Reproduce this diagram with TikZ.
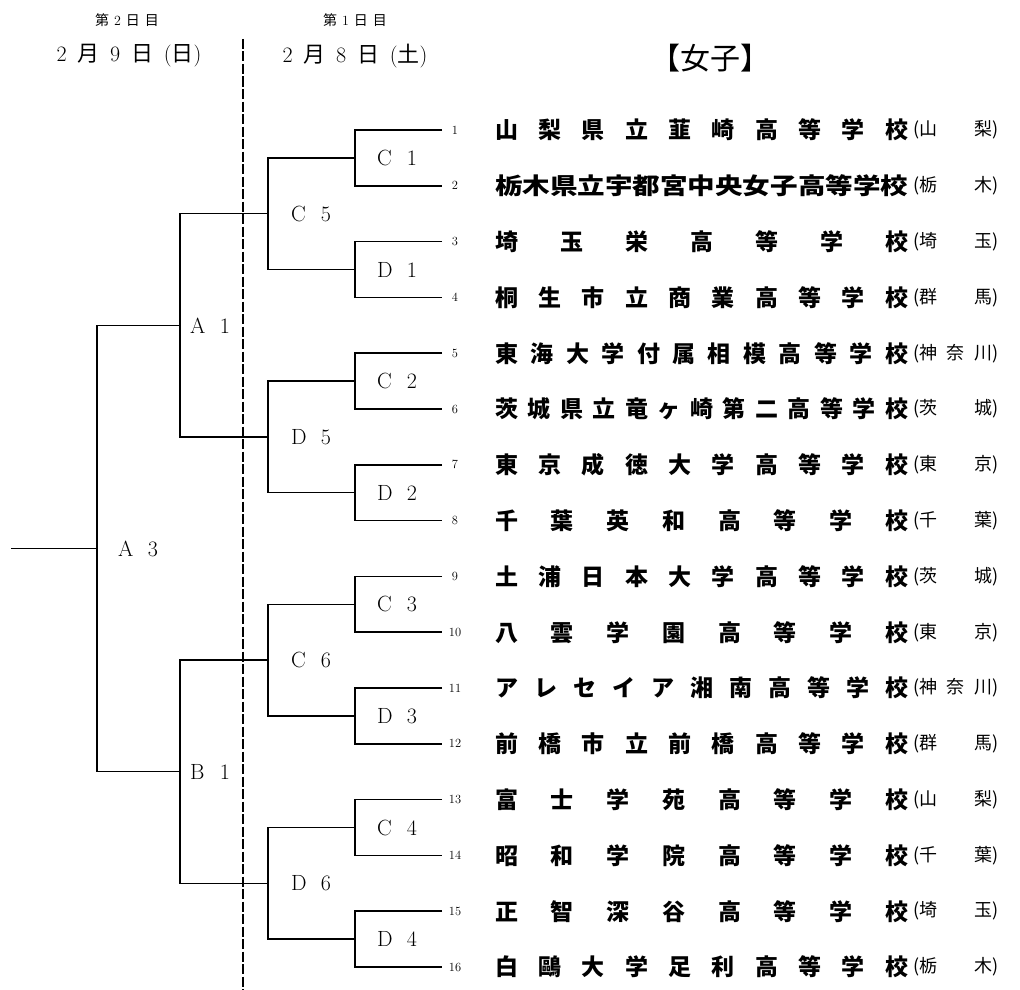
\documentclass[tikz,border=0pt]{standalone}
\usepackage{fontspec}
\usepackage{graphicx}
\newfontfamily\cjk{Noto Sans CJK JP}
\def\spr#1{\sprA#1\relax}
\def\sprA#1#2{#1\ifx\relax#2\else\hfill\expandafter\sprA\fi#2}
\tikzset{
  br/.style={line width=1.5pt, line join=miter},
  dline/.style={line width=2pt, dash pattern=on 10pt off 2.5pt},
  mlabel/.style={inner sep=0pt, font=\fontsize{22}{22}\selectfont},
  num/.style={inner sep=0pt, font=\fontsize{12.5}{12.5}\selectfont},
  school/.style={anchor=west, inner sep=0pt, font={\fontsize{23}{23}\selectfont\cjk\bfseries}},
  pref/.style={anchor=west, inner sep=0pt, font={\fontsize{18}{18}\selectfont\cjk}},
  hdsmall/.style={inner sep=0pt, font=\fontsize{14}{14}\selectfont},
  hdbig/.style={inner sep=0pt, font=\fontsize{22}{22}\selectfont},
  title/.style={inner sep=0pt, font={\fontsize{30}{30}\selectfont\cjk}}
}
\newcommand\srow[3]{%
  \coordinate (L#1) at (442,{130+(#1-1)*55.8});
  \node[num] (n#1) at (455,{130+(#1-1)*55.8}) {#1};
  \node[school] (s#1) at (495,{130+(#1-1)*55.8}) {#2};
  \node[pref] (p#1) at (913,{130+(#1-1)*55.8}) {\makebox[85pt][s]{#3}};
}
\newcommand\mlab[3]{\node[mlabel] (l#1) at (#2) {\makebox[40pt][s]{#3}};}
\begin{document}
\begin{tikzpicture}[x=1pt,y=-1pt]
\useasboundingbox (0,0) rectangle (1020,990);
% headers
\node[hdsmall] (h2s) at (127,20) {\makebox[64pt][s]{{\cjk 第}\hfill 2\hfill{\cjk 日}\hfill{\cjk 目}}};
\node[hdbig] (h2) at (129,56) {\makebox[145pt][s]{2\hfill{\cjk 月}\hfill 9\hfill{\cjk 日}\hfill({\cjk 日})}};
\node[hdsmall] (h1s) at (355,20) {\makebox[64pt][s]{{\cjk 第}\hfill 1\hfill{\cjk 日}\hfill{\cjk 目}}};
\node[hdbig] (h1) at (355,56) {\makebox[145pt][s]{2\hfill{\cjk 月}\hfill 8\hfill{\cjk 日}\hfill({\cjk 土})}};
\node[title] (ttl) at (710,58) {【女子】};
% dashed divider
\coordinate (dtop) at (243,39);
\coordinate (dbot) at (243,990);
\draw[dline] (dtop) -- (dbot);
% rows
\srow{1}{\makebox[413pt][s]{\spr{山梨県立韮崎高等学校}}}{(山\hfill 梨)}
\srow{2}{\scalebox{1.197}[1]{栃木県立宇都宮中央女子高等学校}}{(栃\hfill 木)}
\srow{3}{\makebox[413pt][s]{\spr{埼玉栄高等学校}}}{(埼\hfill 玉)}
\srow{4}{\makebox[413pt][s]{\spr{桐生市立商業高等学校}}}{(群\hfill 馬)}
\srow{5}{\makebox[413pt][s]{\spr{東海大学付属相模高等学校}}}{(神\hfill 奈\hfill 川)}
\srow{6}{\makebox[413pt][s]{\spr{茨城県立竜ヶ崎第二高等学校}}}{(茨\hfill 城)}
\srow{7}{\makebox[413pt][s]{\spr{東京成徳大学高等学校}}}{(東\hfill 京)}
\srow{8}{\makebox[413pt][s]{\spr{千葉英和高等学校}}}{(千\hfill 葉)}
\srow{9}{\makebox[413pt][s]{\spr{土浦日本大学高等学校}}}{(茨\hfill 城)}
\srow{10}{\makebox[413pt][s]{\spr{八雲学園高等学校}}}{(東\hfill 京)}
\srow{11}{\makebox[413pt][s]{\spr{アレセイア湘南高等学校}}}{(神\hfill 奈\hfill 川)}
\srow{12}{\makebox[413pt][s]{\spr{前橋市立前橋高等学校}}}{(群\hfill 馬)}
\srow{13}{\makebox[413pt][s]{\spr{富士学苑高等学校}}}{(山\hfill 梨)}
\srow{14}{\makebox[413pt][s]{\spr{昭和学院高等学校}}}{(千\hfill 葉)}
\srow{15}{\makebox[413pt][s]{\spr{正智深谷高等学校}}}{(埼\hfill 玉)}
\srow{16}{\makebox[413pt][s]{\spr{白鷗大学足利高等学校}}}{(栃\hfill 木)}
% junctions level 1
\coordinate (jC1) at (355,{130+0.5*55.8});
\coordinate (jD1) at (355,{130+2.5*55.8});
\coordinate (jC2) at (355,{130+4.5*55.8});
\coordinate (jD2) at (355,{130+6.5*55.8});
\coordinate (jC3) at (355,{130+8.5*55.8});
\coordinate (jD3) at (355,{130+10.5*55.8});
\coordinate (jC4) at (355,{130+12.5*55.8});
\coordinate (jD4) at (355,{130+14.5*55.8});
% level 2
\coordinate (jC5) at (268,{130+1.5*55.8});
\coordinate (jD5) at (268,{130+5.5*55.8});
\coordinate (jC6) at (268,{130+9.5*55.8});
\coordinate (jD6) at (268,{130+13.5*55.8});
% level 3
\coordinate (jA1) at (180,{130+3.5*55.8});
\coordinate (jB1) at (180,{130+11.5*55.8});
% root
\coordinate (jA3) at (97,{130+7.5*55.8});
\coordinate (out) at (11,{130+7.5*55.8});
% brackets
\draw[br] (L1) -| (jC1) |- (L2);
\draw[br] (L3) -| (jD1) |- (L4);
\draw[br] (L5) -| (jC2) |- (L6);
\draw[br] (L7) -| (jD2) |- (L8);
\draw[br] (L9) -| (jC3) |- (L10);
\draw[br] (L11) -| (jD3) |- (L12);
\draw[br] (L13) -| (jC4) |- (L14);
\draw[br] (L15) -| (jD4) |- (L16);
\draw[br] (jC1) -| (jC5) |- (jD1);
\draw[br] (jC2) -| (jD5) |- (jD2);
\draw[br] (jC3) -| (jC6) |- (jD3);
\draw[br] (jC4) -| (jD6) |- (jD4);
\draw[br] (jC5) -| (jA1) |- (jD5);
\draw[br] (jC6) -| (jB1) |- (jD6);
\draw[br] (jA1) -| (jA3) |- (jB1);
\draw[br] (jA3) -- (out);
% match labels
\mlab{C1}{397,{130+0.5*55.8}}{C\hfill 1}
\mlab{D1}{397,{130+2.5*55.8}}{D\hfill 1}
\mlab{C2}{397,{130+4.5*55.8}}{C\hfill 2}
\mlab{D2}{397,{130+6.5*55.8}}{D\hfill 2}
\mlab{C3}{397,{130+8.5*55.8}}{C\hfill 3}
\mlab{D3}{397,{130+10.5*55.8}}{D\hfill 3}
\mlab{C4}{397,{130+12.5*55.8}}{C\hfill 4}
\mlab{D4}{397,{130+14.5*55.8}}{D\hfill 4}
\mlab{C5}{311,{130+1.5*55.8}}{C\hfill 5}
\mlab{D5}{311,{130+5.5*55.8}}{D\hfill 5}
\mlab{C6}{311,{130+9.5*55.8}}{C\hfill 6}
\mlab{D6}{311,{130+13.5*55.8}}{D\hfill 6}
\mlab{A1}{210,{130+3.5*55.8}}{A\hfill 1}
\mlab{B1}{210,{130+11.5*55.8}}{B\hfill 1}
\mlab{A3}{138,{130+7.5*55.8}}{A\hfill 3}
\end{tikzpicture}
\end{document}
